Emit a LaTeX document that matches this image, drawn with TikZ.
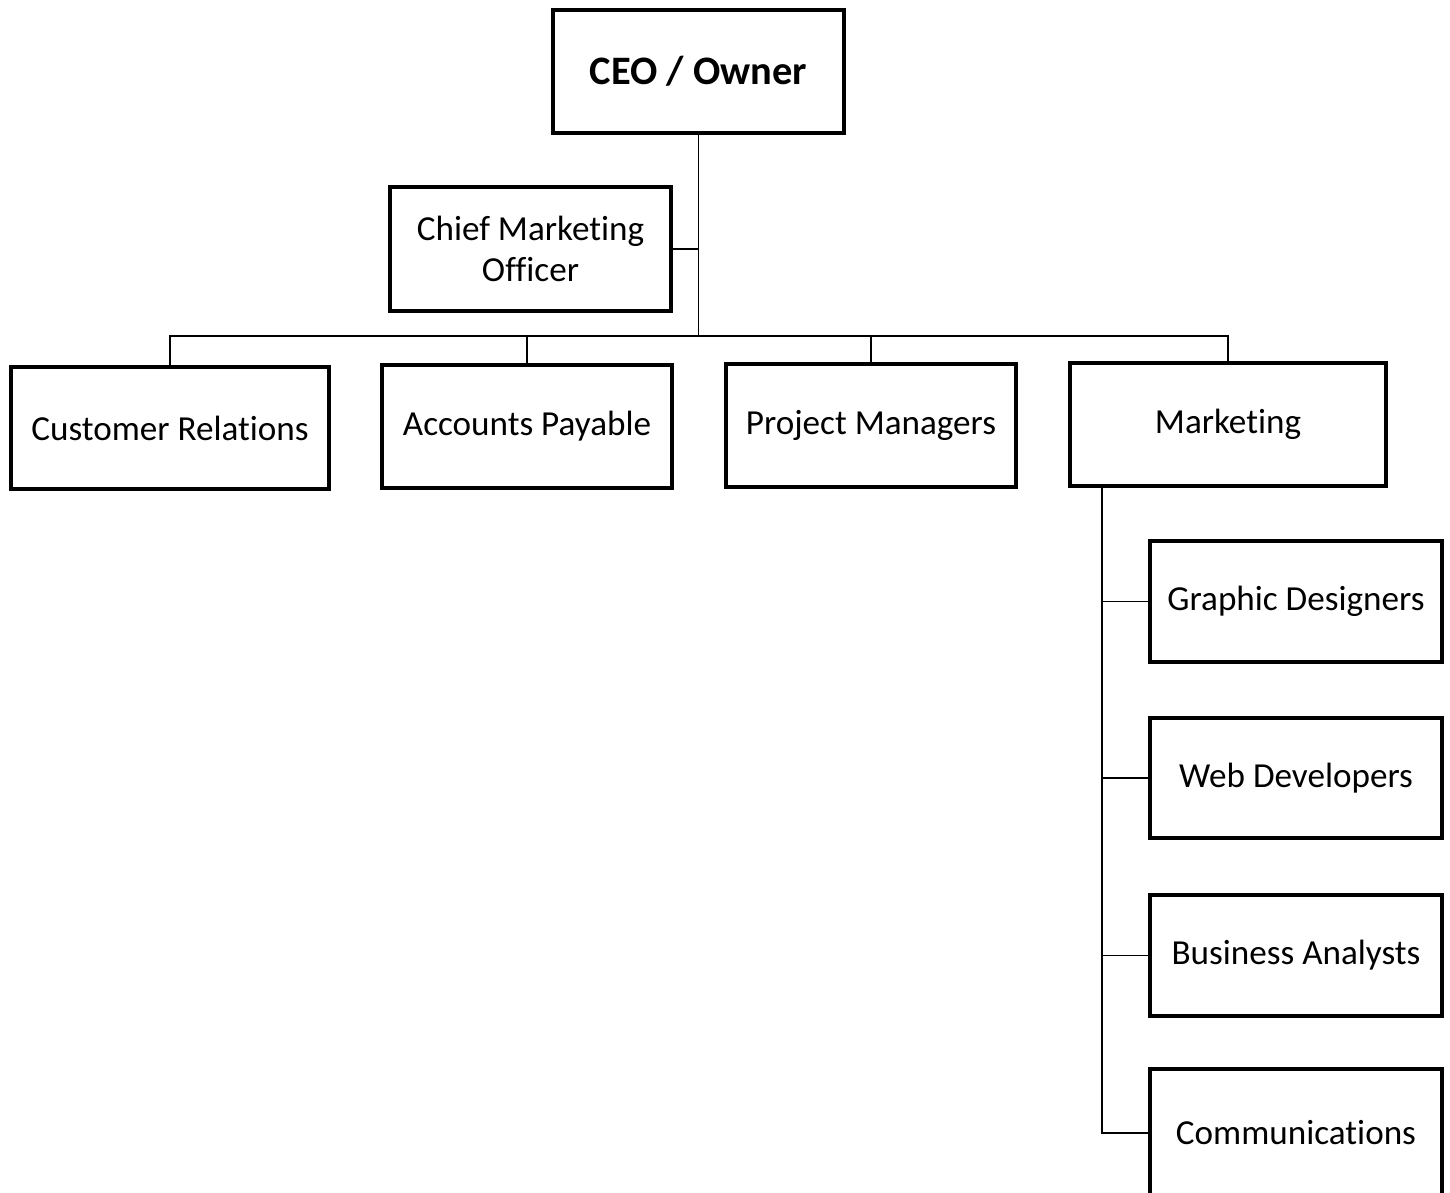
\documentclass[tikz,border=0pt]{standalone}
\usepackage{fontspec}
\setmainfont{Carlito}[RawFeature=-liga]
\tikzset{
  box/.style={draw,line width=0.08cm,minimum width=5.8cm,minimum height=2.46cm,
    inner sep=0pt,align=center,font=\fontsize{20}{23}\selectfont},
  link/.style={line width=0.03cm}
}
\begin{document}
\begin{tikzpicture}[x=0.02cm,y=-0.02cm]
\useasboundingbox (0,0) rectangle (1450,1193);

% The top
\node[box,minimum width=5.82cm,font=\fontsize{23}{28}\selectfont\bfseries] (ceo) at (698.5,71.5) {CEO / Owner};
\node[box,minimum width=5.62cm,minimum height=2.48cm] (cmo) at (530.5,249) {Chief Marketing\\Officer};

% The departments
\node[box,minimum width=6.36cm,minimum height=2.44cm] (cr) at (170,428) {Customer Relations};
\node[box] (ap) at (527,426.5) {Accounts Payable};
\node[box] (pm) at (871,425.5) {Project Managers};
\node[box,minimum width=6.32cm] (mk) at (1228,424.5) {Marketing};

% The marketing teams
\node[box,minimum width=5.84cm,minimum height=2.42cm] (gd) at (1296,601.5) {Graphic Designers};
\node[box,minimum width=5.84cm,minimum height=2.42cm] (wd) at (1296,778) {Web Developers};
\node[box,minimum width=5.84cm,minimum height=2.42cm] (ba) at (1296,955.5) {Business Analysts};
\node[box,minimum width=5.84cm,minimum height=2.56cm] (co) at (1296,1133) {Communications};

% The lines
\coordinate (bus) at (698.5,336);
\coordinate (mkline) at (1102,488);
\draw[link] (ceo.south) -- (bus);
\draw[link] (cmo.east) -- (cmo.east -| ceo.south);
\foreach \dep in {cr,ap,pm,mk}
{
	\draw[link] (bus) -| (\dep.north);
}
\foreach \team in {gd,wd,ba,co}
{
	\draw[link] (mkline) |- (\team.west);
}

\end{tikzpicture}
\end{document}
